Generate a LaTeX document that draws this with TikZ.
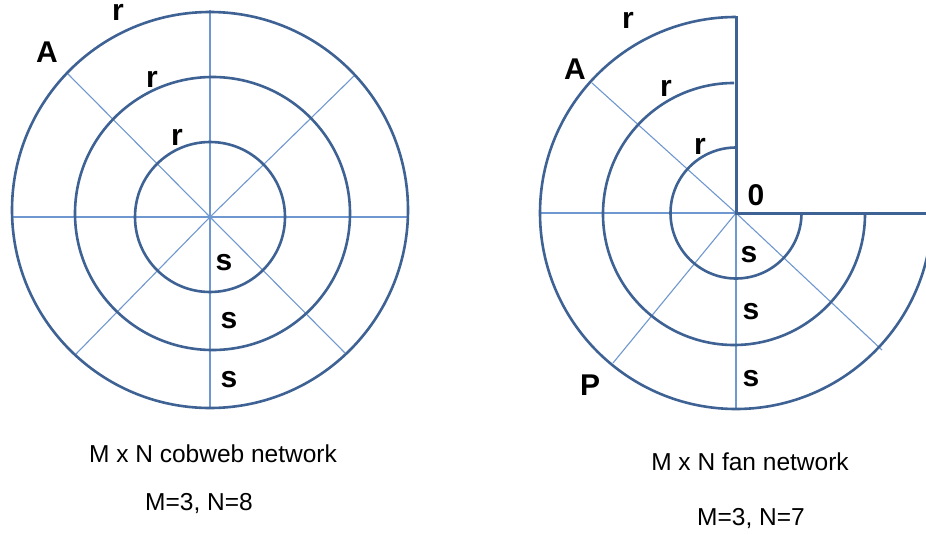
\documentclass[tikz,border=0pt]{standalone}
\usepackage{fontspec}
\setmainfont{Liberation Sans}
\definecolor{ringc}{RGB}{62,98,148}
\definecolor{spokec}{RGB}{112,152,208}
\tikzset{
  ring/.style={draw=ringc, line width=2.6pt},
  spoke/.style={draw=spokec, line width=1.1pt},
  edgeline/.style={draw=ringc, line width=3pt},
  lbl/.style={anchor=base, inner sep=0pt, font=\fontsize{30}{30}\selectfont\bfseries},
  captxt/.style={anchor=base, inner sep=0pt, font=\fontsize{24.5}{24.5}\selectfont},
}
\begin{document}
\begin{tikzpicture}[x=1pt,y=-1pt]
\path[use as bounding box, clip] (0,0) rectangle (926,535);
\fill[white] (0,0) rectangle (926,535);
% ---- left: cobweb ----
\coordinate (cL) at (210,217);
\draw[spoke] (210,10) -- (210,407);
\draw[spoke] (12,217) -- (408,217);
\draw[spoke] (67,73) -- (cL) -- (345,353);
\draw[spoke] (355,75) -- (cL) -- (76,354);
\draw[ring] (210,210) circle[x radius=198, y radius=198];
\draw[ring] (212.5,213.5) circle[x radius=137.5, y radius=136.5];
\draw[ring] (210,217) circle[radius=75];
\node[lbl] (lr1) at (118,21) {r};
\node[lbl] (lA) at (47,63) {A};
\node[lbl] (lr2) at (152,87) {r};
\node[lbl] (lr3) at (177,145) {r};
\node[lbl] (ls1) at (224,270) {s};
\node[lbl] (ls2) at (229,328) {s};
\node[lbl] (ls3) at (229,387) {s};
\node[captxt] (lc1) at (213,462) {M x N cobweb network};
\node[captxt] (lc2) at (199,510) {M=3, N=8};
% ---- right: fan ----
\coordinate (cR) at (736,213);
\draw[spoke] (592,83) -- (cR);
\draw[spoke] (540,213) -- (cR);
\draw[spoke] (613,363) -- (cR);
\draw[spoke] (736,410) -- (cR);
\draw[spoke] (882,350) -- (cR);
\draw[ring] (736,17) arc[start angle=270, end angle=0, radius=196];
\draw[ring] (734,83) arc[start angle=270, end angle=0, radius=131];
\draw[ring] (736,147.5) arc[start angle=270, end angle=0, radius=65.5];
\draw[edgeline] (736,16) -- (cR) -- (940,213);
\node[lbl] (rr1) at (628,29) {r};
\node[lbl] (rA) at (575,79) {A};
\node[lbl] (rr2) at (666,96) {r};
\node[lbl] (rr3) at (700,154) {r};
\node[lbl] (r0) at (756,205) {0};
\node[lbl] (rs1) at (749,262) {s};
\node[lbl] (rs2) at (751,319) {s};
\node[lbl] (rs3) at (751,386) {s};
\node[lbl] (rP) at (590,395) {P};
\node[captxt] (rc1) at (750,470) {M x N fan network};
\node[captxt] (rc2) at (751,525) {M=3, N=7};
\end{tikzpicture}
\end{document}
